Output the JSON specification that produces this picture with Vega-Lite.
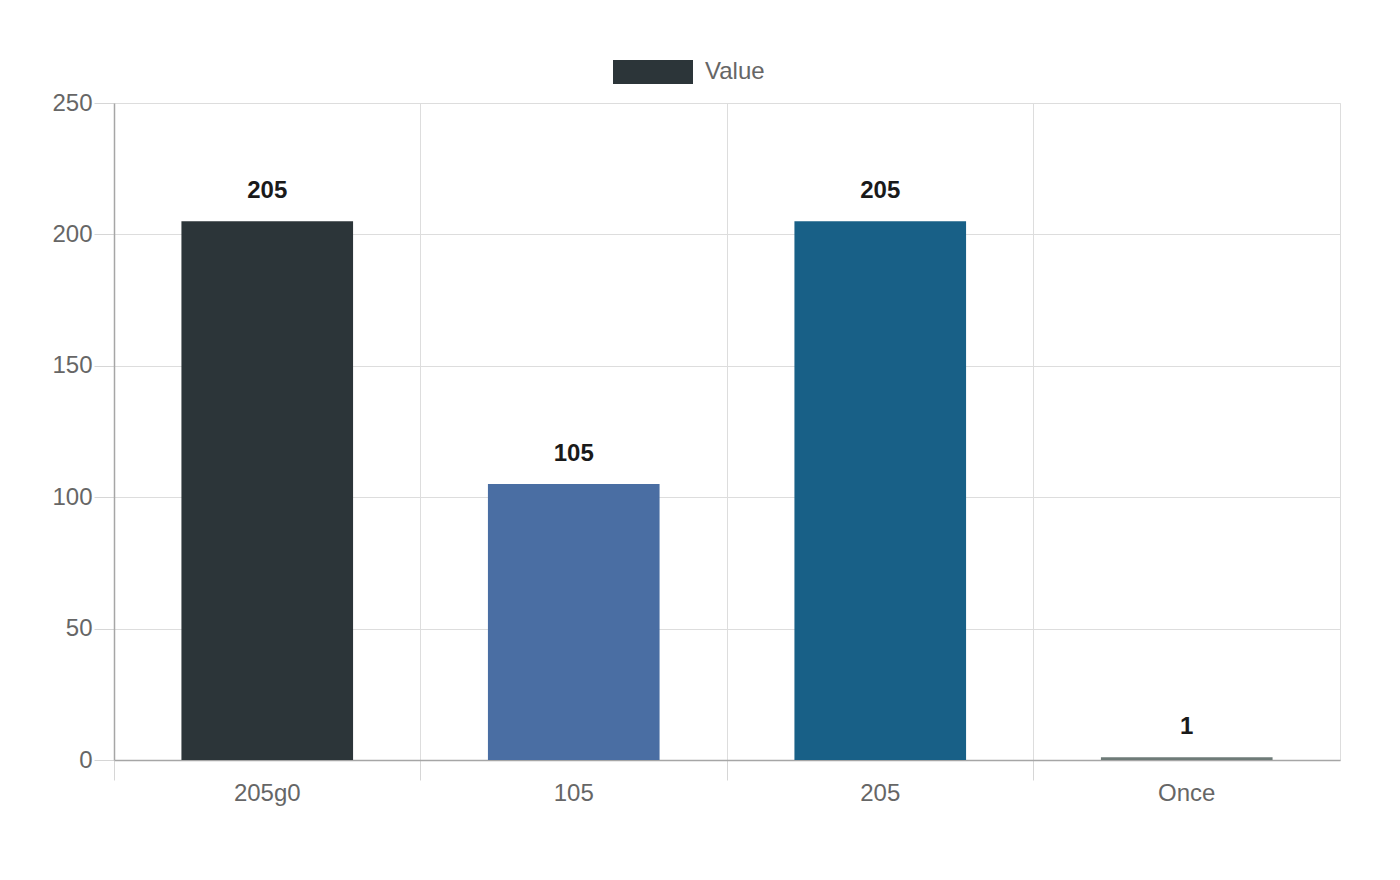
{
  "$schema": "https://vega.github.io/schema/vega-lite/v6.json",
  "width": 1226,
  "height": 657,
  "autosize": "none",
  "padding": {"left": 114, "top": 103, "right": 60, "bottom": 120},
  "background": "white",
  "data": {
    "values": [
      {"label": "205g0", "value": 205},
      {"label": "105", "value": 105},
      {"label": "205", "value": 205},
      {"label": "Once", "value": 1}
    ]
  },
  "encoding": {
    "x": {
      "field": "label",
      "type": "nominal",
      "sort": null,
      "scale": {"paddingInner": 0, "paddingOuter": 0},
      "axis": {
        "title": null,
        "bandPosition": 0,
        "labelOffset": 0,
        "grid": true,
        "gridColor": "#dddddd",
        "tickSize": 20,
        "tickColor": "#d6d6d6",
        "domainColor": "#a6a6a6",
        "domainWidth": 1.5,
        "labelPadding": 1,
        "labelAngle": 0,
        "labelFontSize": 24,
        "labelColor": "#666666",
        "labelFont": "Liberation Sans"
      }
    },
    "y": {
      "field": "value",
      "type": "quantitative",
      "scale": {"domain": [0, 250]},
      "axis": {
        "title": null,
        "values": [0, 50, 100, 150, 200, 250],
        "grid": true,
        "gridColor": "#dddddd",
        "tickSize": 20,
        "tickColor": "#d6d6d6",
        "domainColor": "#a6a6a6",
        "domainWidth": 1.5,
        "labelPadding": 2,
        "labelFontSize": 24,
        "labelColor": "#666666",
        "labelFont": "Liberation Sans"
      }
    }
  },
  "layer": [
    {
      "mark": {"type": "bar", "width": {"band": 0.56}},
      "encoding": {
        "color": {
          "field": "label",
          "type": "nominal",
          "sort": null,
          "scale": {
            "domain": ["205g0", "105", "205", "Once"],
            "range": ["#2c3539", "#4a6ea3", "#186087", "#6e7b78"]
          },
          "legend": {
            "values": ["205g0"],
            "labelExpr": "'Value'",
            "title": null,
            "orient": "none",
            "legendX": 499,
            "legendY": -71,
            "padding": 0,
            "symbolType": "M-1,-0.3H1V0.3H-1Z",
            "symbolSize": 6400,
            "symbolStrokeWidth": 0,
            "labelOffset": 12,
            "labelFontSize": 24,
            "labelColor": "#666666",
            "labelFont": "Liberation Sans"
          }
        }
      }
    },
    {
      "mark": {
        "type": "text",
        "baseline": "alphabetic",
        "dy": -23,
        "fontSize": 24,
        "fontWeight": "bold",
        "font": "Liberation Sans",
        "color": "#1a1a1a"
      },
      "encoding": {
        "text": {"field": "value", "type": "quantitative"}
      }
    }
  ],
  "config": {
    "view": {"stroke": "#dddddd"},
    "axis": {"gridWidth": 1}
  }
}
